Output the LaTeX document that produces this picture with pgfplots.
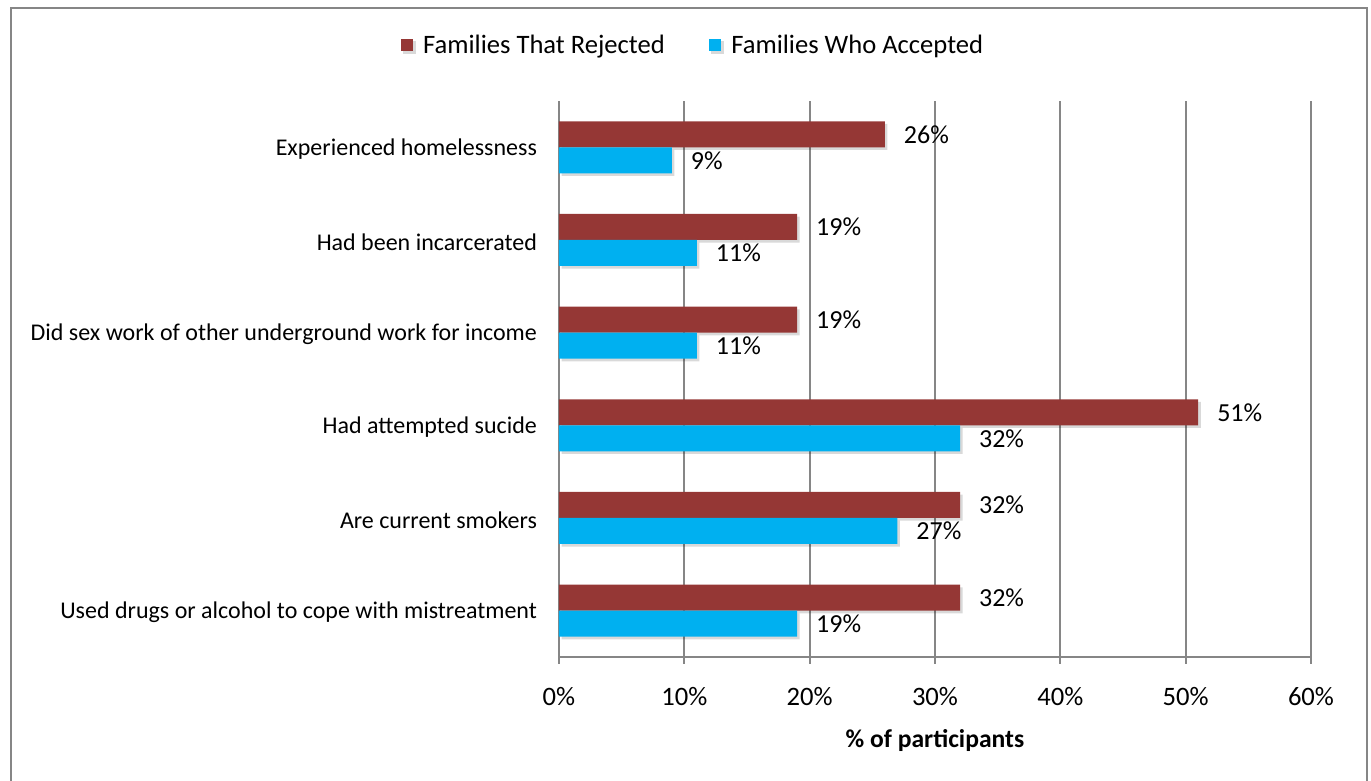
\documentclass[border=0pt]{standalone}
\usepackage{pgfplots}
\pgfplotsset{compat=1.18}
\usetikzlibrary{shadows}
\usepackage{fontspec}
\setmainfont{Carlito}
\definecolor{redbar}{HTML}{953735}
\definecolor{bluebar}{HTML}{00B0F0}
\definecolor{gridc}{HTML}{868686}
\newcommand{\catfont}{\fontsize{12}{14}\selectfont}
\newcommand{\tickfont}{\fontsize{13.3}{15}\selectfont}
\newcommand{\valfont}{\fontsize{13}{15}\selectfont}
\begin{document}
\begin{tikzpicture}
\begin{axis}[
  at={(0pt,0pt)}, anchor=south west,
  scale only axis, width=376pt, height=278pt,
  xbar, bar width=13pt,
  xmin=0, xmax=60, ymin=-0.5, ymax=5.5,
  xtick={0,10,20,30,40,50,60},
  xticklabels={0\%,10\%,20\%,30\%,40\%,50\%,60\%},
  ytick={0,1,2,3,4,5},
  yticklabels={Used drugs or alcohol to cope with mistreatment, Are current smokers, Had attempted sucide, Did sex work of other underground work for income, Had been incarcerated, Experienced homelessness},
  axis x line*=bottom, axis y line*=left,
  axis line style={gridc, line width=0.9pt},
  x axis line style={-}, y axis line style={-},
  xmajorgrids, major grid style={gridc, line width=0.9pt},
  tick style={gridc, line width=0.9pt},
  xtick align=outside, major tick length=3.5pt,
  ytick style={draw=none},
  xticklabel style={font=\tickfont, text=black, yshift=-8pt},
  yticklabel style={font=\catfont, text=black, xshift=-4pt, yshift=-1pt},
  xlabel={\textbf{\% of participants}},
  xlabel style={font=\fontsize{12.8}{15}\selectfont, at={(axis description cs:0.5,-0.151)}, anchor=center},
  /pgf/number format/assume math mode=true,
  nodes near coords={\pgfmathprintnumber{\pgfplotspointmeta}\%},
  nodes near coords style={anchor=west, xshift=6pt, font=\valfont, text=black},
  point meta=x,
  legend columns=2,
  legend style={at={(axis description cs:0.1795,1.099)}, anchor=center, draw=none, fill=none,
    font=\fontsize{13.3}{15}\selectfont,
    /tikz/every even column/.append style={column sep=20pt},
    /tikz/every odd column/.append style={column sep=3pt}},
  clip=false,
]
\addplot[fill=redbar, draw=none, bar shift=6.5pt,
  drop shadow={shadow xshift=1.3pt, shadow yshift=-1.3pt, opacity=0.15, fill=black},
  legend image code/.code={\fill[redbar] (0pt,-2.6pt) rectangle (6.2pt,3.6pt);}]
  coordinates {(32,0) (32,1) (51,2) (19,3) (19,4) (26,5)};
\addplot[fill=bluebar, draw=none, bar shift=-6.5pt,
  drop shadow={shadow xshift=1.3pt, shadow yshift=-1.3pt, opacity=0.15, fill=black},
  legend image code/.code={\fill[bluebar] (0pt,-2.6pt) rectangle (6.2pt,3.6pt);}]
  coordinates {(19,0) (27,1) (32,2) (11,3) (11,4) (9,5)};
\legend{Families That Rejected, Families Who Accepted}
\end{axis}
\draw[gridc, line width=1pt] (-274pt,324.25pt) rectangle (404pt,-70pt);
\pgfresetboundingbox
\useasboundingbox (-279.5pt,-62pt) rectangle (406pt,328.5pt);
\end{tikzpicture}
\end{document}
